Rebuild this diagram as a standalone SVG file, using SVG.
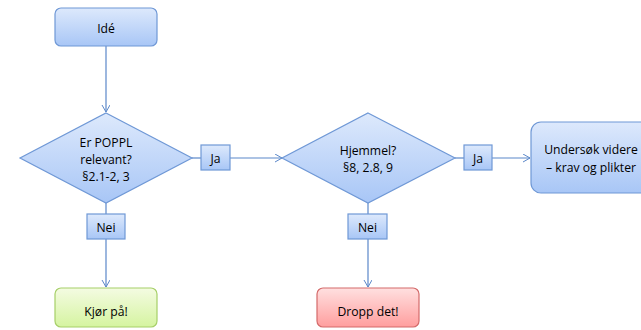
<svg xmlns="http://www.w3.org/2000/svg" width="641" height="330" viewBox="0 0 641 330">
<defs>
<linearGradient id="gb" x1="0" y1="0" x2="0" y2="1"><stop offset="0" stop-color="#dde9fc"/><stop offset="1" stop-color="#a8c6f6"/></linearGradient>
<linearGradient id="gg" x1="0" y1="0" x2="0" y2="1"><stop offset="0" stop-color="#f4fbe2"/><stop offset="1" stop-color="#d5f4a0"/></linearGradient>
<linearGradient id="gr" x1="0" y1="0" x2="0" y2="1"><stop offset="0" stop-color="#ffe0e0"/><stop offset="1" stop-color="#ff9e9e"/></linearGradient>
<marker id="ah" markerWidth="10" markerHeight="10" refX="8" refY="4" orient="auto" markerUnits="userSpaceOnUse"><path d="M1,0 L8,4 L1,8" fill="none" stroke="#5b87c9" stroke-width="1"/></marker>
</defs>
<style>
.b{fill:url(#gb);stroke:#6f98d6;stroke-width:1.2}
.g{fill:url(#gg);stroke:#a6cf68;stroke-width:1.2}
.r{fill:url(#gr);stroke:#d46a6a;stroke-width:1.2}
.c{fill:none;stroke:#5b87c9;stroke-width:1.2}
text{font-family:"Open Sans","Liberation Sans",sans-serif;font-size:12.2px;fill:#000;text-anchor:middle;dominant-baseline:central}
</style>
<g id="connectors">
<line class="c" x1="106" y1="46" x2="106" y2="112" marker-end="url(#ah)"/>
<line class="c" x1="192" y1="158" x2="201" y2="158"/>
<line class="c" x1="230" y1="158" x2="282" y2="158" marker-end="url(#ah)"/>
<line class="c" x1="455" y1="158" x2="464" y2="158"/>
<line class="c" x1="492" y1="158" x2="530" y2="158" marker-end="url(#ah)"/>
<line class="c" x1="106" y1="203" x2="106" y2="214"/>
<line class="c" x1="106" y1="239" x2="106" y2="287" marker-end="url(#ah)"/>
<line class="c" x1="368" y1="203" x2="368" y2="214"/>
<line class="c" x1="368" y1="239" x2="368" y2="287" marker-end="url(#ah)"/>
</g>
<g id="ide"><rect class="b" x="55" y="8" width="102" height="38" rx="6"/><text x="106" y="28">Idé</text></g>
<g id="poppl"><polygon class="b" points="106,113 192,158 106,203 20,158"/><text x="106" y="142">Er POPPL</text><text x="106" y="159">relevant?</text><text x="106" y="176">§2.1-2, 3</text></g>
<g id="ja1"><rect class="b" x="201" y="145" width="29" height="25"/><text x="215.5" y="158">Ja</text></g>
<g id="hjemmel"><polygon class="b" points="368,113 455,158 368,203 282,158"/><text x="368" y="150">Hjemmel?</text><text x="368" y="167">§8, 2.8, 9</text></g>
<g id="ja2"><rect class="b" x="464" y="145" width="28" height="25"/><text x="478" y="158">Ja</text></g>
<g id="undersok"><rect class="b" x="531" y="122" width="122" height="71" rx="10"/><text x="591" y="149">Undersøk videre</text><text x="591" y="167">– krav og plikter</text></g>
<g id="nei1"><rect class="b" x="87" y="214" width="38" height="25"/><text x="106" y="227">Nei</text></g>
<g id="nei2"><rect class="b" x="348" y="214" width="39" height="25"/><text x="367.5" y="227">Nei</text></g>
<g id="kjor"><rect class="g" x="55" y="288" width="102" height="39" rx="6"/><text x="106" y="311">Kjør på!</text></g>
<g id="dropp"><rect class="r" x="317" y="288" width="102" height="39" rx="6"/><text x="368" y="311">Dropp det!</text></g>
</svg>
